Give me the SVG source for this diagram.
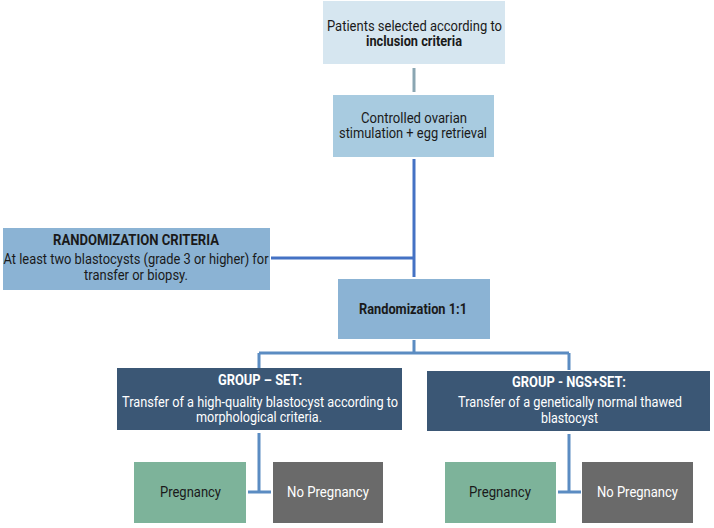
<svg xmlns="http://www.w3.org/2000/svg" width="714" height="528" viewBox="0 0 714 528">
<style>
text{font-family:Roboto,"Liberation Sans",sans-serif;text-anchor:middle;font-size:14px}
.b{font-weight:bold}
.dk{fill:#1a1a1a}
.wt{fill:#ffffff}
.p{font-size:15.5px}
.c1{stroke:#8aa6b2;stroke-width:3;fill:none}
.c2{stroke:#4472c4;stroke-width:3;fill:none}
.c3{stroke:#5b8cc2;stroke-width:3;fill:none}
</style>
<rect width="714" height="528" fill="#ffffff"/>
<g id="connectors">
<path class="c1" d="M414 68V92"/>
<path class="c2" d="M414 159V277M271 258H414"/>
<path class="c3" d="M414 340V353M259 353H569M259 353V368M569 353V370"/>
<path class="c3" d="M259 433V492M248 492H271"/>
<path class="c3" d="M569 434V492M558 492H581"/>
</g>
<g id="patients">
<rect x="323" y="1" width="182" height="63" fill="#d6e6f0"/>
<text x="414.5" y="31" class="dk" textLength="175" lengthAdjust="spacingAndGlyphs">Patients selected according to</text>
<text x="414" y="46" class="dk b" textLength="96" lengthAdjust="spacingAndGlyphs">inclusion criteria</text>
</g>
<g id="stimulation">
<rect x="333" y="95" width="161" height="62" fill="#a8cbe0"/>
<text x="414" y="123" class="dk" textLength="106" lengthAdjust="spacingAndGlyphs">Controlled ovarian</text>
<text x="413" y="138" class="dk" textLength="148" lengthAdjust="spacingAndGlyphs">stimulation + egg retrieval</text>
</g>
<g id="criteria">
<rect x="3" y="228" width="267" height="62" fill="#8bb3d4"/>
<text x="136" y="245" class="dk b" font-size="13" textLength="166" lengthAdjust="spacingAndGlyphs">RANDOMIZATION  CRITERIA</text>
<text x="136" y="264" class="dk" textLength="265" lengthAdjust="spacingAndGlyphs">At least two blastocysts (grade 3 or higher) for</text>
<text x="136" y="280" class="dk" textLength="104" lengthAdjust="spacingAndGlyphs">transfer or biopsy.</text>
</g>
<g id="randomization">
<rect x="338" y="279" width="152" height="60" fill="#8bb3d4"/>
<text x="413" y="314" class="dk b" textLength="108" lengthAdjust="spacingAndGlyphs">Randomization 1:1</text>
</g>
<g id="group-set">
<rect x="117" y="368" width="285" height="62" fill="#3b5775"/>
<text x="260" y="385" class="wt b" textLength="84" lengthAdjust="spacingAndGlyphs">GROUP – SET:</text>
<text x="260" y="407" class="wt" textLength="276" lengthAdjust="spacingAndGlyphs">Transfer of a high-quality  blastocyst according to</text>
<text x="259" y="422" class="wt" textLength="126" lengthAdjust="spacingAndGlyphs">morphological  criteria.</text>
</g>
<g id="group-ngs">
<rect x="427" y="371" width="283" height="60" fill="#3b5775"/>
<text x="569" y="387" class="wt b" textLength="114" lengthAdjust="spacingAndGlyphs">GROUP - NGS+SET:</text>
<text x="570" y="407" class="wt" textLength="224" lengthAdjust="spacingAndGlyphs">Transfer of a genetically  normal thawed</text>
<text x="569.5" y="423" class="wt" textLength="57" lengthAdjust="spacingAndGlyphs">blastocyst</text>
</g>
<g id="pregnancy-set">
<rect x="134" y="462" width="112" height="61" fill="#7db39a"/>
<text x="190.5" y="497" class="dk p" textLength="61" lengthAdjust="spacingAndGlyphs">Pregnancy</text>
</g>
<g id="nopregnancy-set">
<rect x="273" y="462" width="110" height="61" fill="#6a6a6a"/>
<text x="328" y="497" class="wt p" textLength="82" lengthAdjust="spacingAndGlyphs">No Pregnancy</text>
</g>
<g id="pregnancy-ngs">
<rect x="445" y="462" width="111" height="61" fill="#7db39a"/>
<text x="500" y="497" class="dk p" textLength="62" lengthAdjust="spacingAndGlyphs">Pregnancy</text>
</g>
<g id="nopregnancy-ngs">
<rect x="582" y="462" width="111" height="61" fill="#6a6a6a"/>
<text x="637.5" y="497" class="wt p" textLength="81" lengthAdjust="spacingAndGlyphs">No Pregnancy</text>
</g>
</svg>
